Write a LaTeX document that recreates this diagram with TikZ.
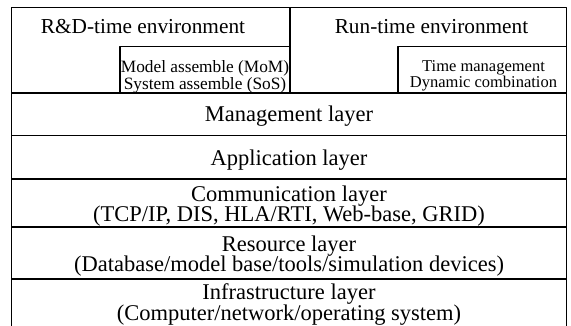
\documentclass[tikz,border=0pt]{standalone}
\usepackage{fontspec}
\setmainfont{Liberation Serif}
\usetikzlibrary{positioning}

\begin{document}
\begin{tikzpicture}[x=1pt, y=-1pt, line width=1.2pt, line join=round,
	font=\fontsize{22.5}{20.5}\selectfont,
	frame/.style={draw, inner sep=0pt, outer sep=0pt},
	layer/.style={frame, minimum width=555pt},
	txt/.style={align=center, inner sep=0pt, anchor=base},
	small/.style={font=\fontsize{17.3}{13.5}\selectfont}]
	\clip (0,0) rectangle (571,325);
	% the two environments
	\node[frame, anchor=north west, minimum width=278.5pt, minimum height=85.5pt] (rd) at (11.5,7.5) {};
	\node[frame, anchor=north west, minimum width=276.5pt, minimum height=85.5pt] (rt) at (rd.north east) {};
	\node[frame, anchor=south east, minimum width=170pt, minimum height=46.5pt] (mom) at (rd.south east) {};
	\node[frame, anchor=south east, minimum width=168.5pt, minimum height=46.3pt] (tm) at (rt.south east) {};
	\node[txt, font=\fontsize{21.3}{21}\selectfont] (rdtext) at (143,33) {R\&D-time environment};
	\node[txt, font=\fontsize{21.3}{21}\selectfont] (rttext) at (431.5,33) {Run-time environment};
	% base of a two-line text is its last line
	\node[txt, small] (momtext) at (205,89.5) {Model assemble (MoM)\\System assemble (SoS)};
	\node[txt, small, font=\fontsize{16.5}{13.5}\selectfont] (tmtext) at (483.5,87.5) {Time management\\Dynamic combination};
	% layers
	\node[layer, anchor=north west, minimum height=42.7pt] (mgmt) at (rd.south west) {};
	\node[layer, below=0pt of mgmt, minimum height=43.3pt] (app) {};
	\node[layer, below=0pt of app, minimum height=48pt] (comm) {};
	\node[layer, below=0pt of comm, minimum height=52pt] (res) {};
	\node[layer, below=0pt of res, minimum height=60pt] (infra) {};
	\node[txt] (mgmttext) at (289,121.7) {Management layer};
	\node[txt] (apptext) at (289,165) {Application layer};
	\node[txt] (commtext) at (289,221.7) {Communication layer\\(TCP/IP, DIS, HLA/RTI, Web-base, GRID)};
	\node[txt] (restext) at (289,271.5) {Resource layer\\(Database/model base/tools/simulation devices)};
	\node[txt] (infratext) at (289,320) {Infrastructure layer\\(Computer/network/operating system)};
\end{tikzpicture}
\end{document}
